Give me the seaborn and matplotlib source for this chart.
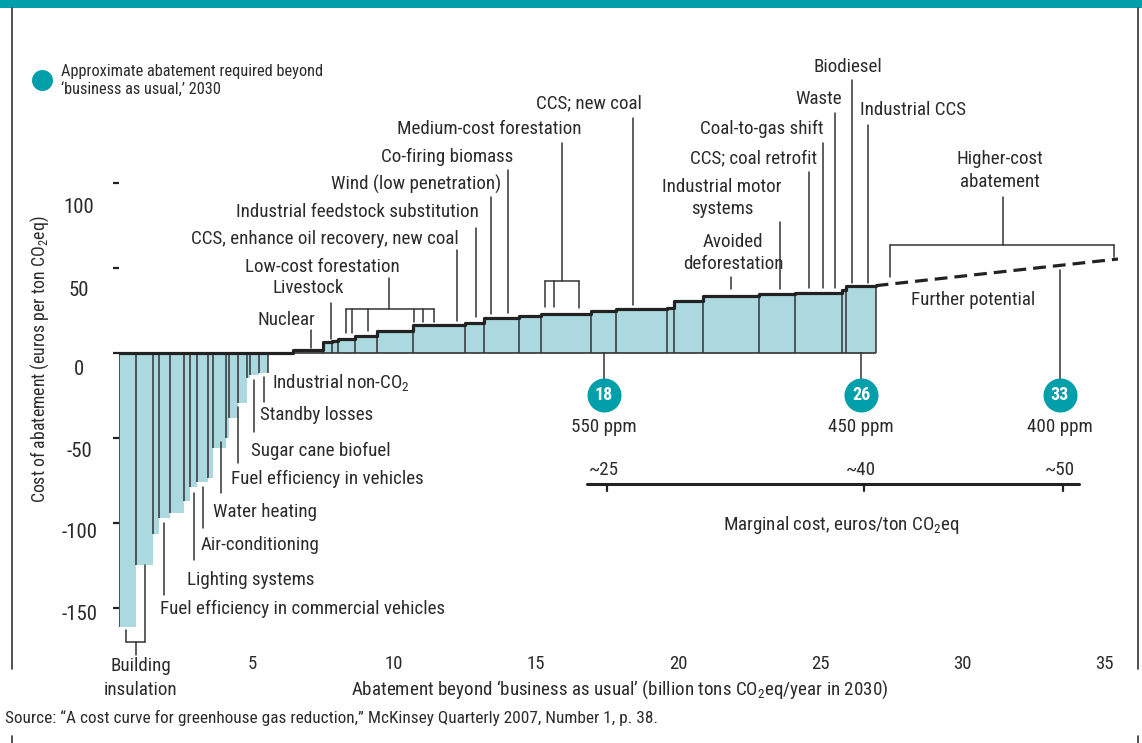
import numpy as np
import matplotlib.pyplot as plt
import seaborn as sns
import matplotlib.transforms as mtransforms
from matplotlib import font_manager

# Data: abatement widths (billion tons CO2eq) and cost (euros per ton), left to right
widths = [0.59, 0.60, 0.19, 0.40, 0.50, 0.21, 0.25, 0.37, 0.18, 0.46, 0.12, 0.30, 0.31, 0.12, 0.31, 0.31,
          0.90,
          1.06, 0.32, 0.21, 0.59, 0.76, 1.29, 1.82, 0.67, 1.24, 0.78, 1.74, 0.88, 1.79, 0.26, 1.01, 1.97,
          1.27, 1.65, 0.16, 1.04]
costs = [-161, -124.7, -106.7, -97, -94.3, -86.9, -78.6, -75.7, -73.5, -56, -49.8, -38.4, -29.6, -14.9, -12.9, -11.6,
         0,
         1.8, 6.3, 7.2, 8.4, 10.0, 13.1, 16.3, 17.8, 20.4, 21.9, 23.1, 24.7, 25.7, 26.3, 30.8, 33.5, 34.5, 35.1,
         37.1, 39.6]
curve_start = 0.33

# "further potential" extension (dashed)
further_x = [26.96, 35.49]
further_cost = [39.6, 55.3]

# abatement targets
targets_x = [17.4, 26.45, 33.45]
targets = ["18", "26", "33"]
ppm = ["550 ppm", "450 ppm", "400 ppm"]
marginal = ["~25", "~40", "~50"]

yticks = [100, 50, 0, -50, -100, -150]
xticks = [5, 10, 15, 20, 25, 30, 35]

# Style: a condensed sans if one is installed
names = {f.name for f in font_manager.fontManager.ttflist}
base, k = "Liberation Sans", 0.92
for cand in ["Roboto Condensed", "Archivo Narrow", "Liberation Sans Narrow", "Barlow Semi Condensed"]:
    if cand in names:
        base, k = cand, 1.0
        break
fs = 13.7 * k
sns.set_style("white")
plt.rcParams["font.family"] = [base, "DejaVu Sans"]
plt.rcParams["mathtext.fontset"] = "custom"
plt.rcParams["mathtext.rm"] = base
plt.rcParams["mathtext.it"] = base
plt.rcParams["mathtext.bf"] = base + ":bold"

teal = "#009fa9"
fill = "#acd9df"
ink = "#2b2b2b"
line = "#333333"

W, H = 1142, 743
fig = plt.figure(figsize=(W / 100, H / 100), dpi=100)
ax = fig.add_axes([119 / W, 1 - 652 / H, 1011 / W, 632 / H])
ax.set_xlim(0.317, 35.915)
ax.set_ylim(-175.9, 195.9)
for s in ax.spines.values():
    s.set_visible(False)

# bars
widths = np.array(widths)
costs = np.array(costs)
lefts = curve_start + np.concatenate([[0], np.cumsum(widths)[:-1]])
rights = lefts + widths
ax.bar(lefts, costs, width=widths, align="edge", color=fill, linewidth=0)

# separators: left edge of every bar, right edge at the end of each run
real = costs != 0
ax.vlines(lefts[real], 0, costs[real], color=line, lw=1.1)
ends = [i for i in range(len(costs)) if real[i] and (i == len(costs) - 1 or costs[i + 1] == 0)]
ax.vlines(rights[ends], 0, costs[ends], color=line, lw=1.1)
ax.hlines(0, lefts[0], rights[-1], color=line, lw=1.2)

# stepped cost curve outline
edges = np.append(lefts, rights[-1])
tops = np.maximum(costs, 0)
sns.lineplot(x=edges, y=np.append(tops, tops[-1]), estimator=None, sort=False,
             drawstyle="steps-post", color="#222222", linewidth=2.3, ax=ax)
ax.plot(further_x, further_cost, color="#222222", lw=2.3, dashes=(4, 2.2))

# axes ticks
ax.set_yticks(yticks)
ax.set_yticklabels([str(v) for v in yticks])
ax.tick_params(axis="y", left=True, direction="out", length=4.3, width=1.6, color="#222222",
               pad=24.5, labelsize=15 * k, labelcolor=ink)
ytick_nudge = [24, 22, 17, 14, 10, 7]
for lab, n in zip(ax.get_yticklabels(), ytick_nudge):
    lab.set_horizontalalignment("center")
    lab.set_verticalalignment("center")
    lab.set_transform(lab.get_transform() + mtransforms.ScaledTranslation(0, -n / 100, fig.dpi_scale_trans))
ax.set_xticks(xticks)
ax.set_xticklabels([str(v) for v in xticks])
ax.tick_params(axis="x", bottom=True, length=0, pad=2, labelsize=13.5 * k, labelcolor=ink)


def leader(x, y0, y1):
    ax.plot([x, x], [y0, y1], color=line, lw=1.1, clip_on=False)


# labels below the baseline (negative cost)
neg_labels = [
    ("Industrial non-CO$_2$", 5.70, -17.6, None),
    ("Standby losses", 5.28, -36.5, (5.42, -14.1, -28.8)),
    ("Sugar cane biofuel", 4.96, -57.6, (5.08, -15.9, -46.5)),
    ("Fuel efficiency in vehicles", 4.26, -74.1, (4.50, -31.8, -64.7)),
    ("Water heating", 3.63, -93.5, (3.90, -52.4, -82.4)),
    ("Air-conditioning", 3.20, -112.9, (3.26, -78.8, -102.9)),
    ("Lighting systems", 2.71, -133.5, (2.96, -82.4, -121.8)),
    ("Fuel efficiency in commercial vehicles", 1.76, -150.6, (1.91, -100, -142.4)),
]
for txt, tx, ty, ld in neg_labels:
    ax.text(tx, ty, txt, ha="left", va="center", fontsize=fs, color=ink)
    if ld:
        leader(*ld)

# labels above the curve
pos_labels = [
    ("Nuclear", 6.23, 19.4, (7.07, 13.5, 2.9)),
    ("Livestock", 6.97, 38.2, (7.78, 29.4, 8.2)),
    ("CCS, enhance oil recovery, new coal", 7.57, 67.1, (12.23, 60.6, 19.0)),
    ("Industrial feedstock substitution", 8.71, 82.9, (12.89, 73.5, 21.2)),
    ("Wind (low penetration)", 10.79, 99.4, (13.42, 91.8, 23.2)),
    ("Co-firing biomass", 11.88, 115.3, (14.02, 107.6, 23.4)),
    ("CCS; new coal", 16.88, 147.1, (18.40, 138.2, 28.2)),
    ("Avoided\ndeforestation", 21.94, 58.8, (21.86, 44.9, 37.6)),
    ("Industrial motor\nsystems", 21.55, 91.2, (23.59, 77.1, 37.6)),
    ("CCS; coal retrofit", 22.66, 114.7, (24.60, 106.5, 38.2)),
    ("Coal-to-gas shift", 22.96, 131.8, (25.09, 123.5, 38.2)),
    ("Waste", 24.96, 149.4, (25.52, 141.2, 38.2)),
    ("Biodiesel", 25.99, 168.2, (26.12, 160.6, 41.2)),
    ("Industrial CCS", 28.26, 142.9, (26.69, 134.1, 41.2)),
    ("Higher-cost\nabatement", 31.34, 107.4, (31.44, 91.9, 63.5)),
    ("Low-cost forestation", 7.48, 50.6, (9.82, 44.1, 25.9)),
    ("Medium-cost forestation", 13.35, 131.8, (15.90, 123.5, 42.4)),
]
for txt, tx, ty, ld in pos_labels:
    ax.text(tx, ty, txt, ha="center", va="center", fontsize=fs, color=ink, linespacing=1.35)
    leader(*ld)


def bracket(x0, x1, y, legs):
    ax.plot([x0, x1], [y, y], color=line, lw=1.1, clip_on=False)
    for lx, ly in legs:
        leader(lx, y, ly)


bracket(8.30, 11.41, 25.9, [(8.30, 11.6), (8.51, 11.6), (9.07, 13.1), (10.71, 18.4), (11.01, 18.4), (11.41, 18.4)])
bracket(15.32, 16.51, 42.4, [(15.32, 27.2), (15.64, 27.2), (16.51, 26.6)])
bracket(27.46, 35.36, 63.5, [(27.46, 44.9), (35.36, 56.6)])
bracket(0.56, 1.23, -169.8, [(0.56, -162.9), (1.23, -124.7)])
leader(0.92, -169.8, -177.6)
ax.text(1.09, -191.2, "Building\ninsulation", ha="center", va="center", fontsize=fs, color=ink, linespacing=1.38)
ax.text(30.39, 31.2, "Further potential", ha="center", va="center", fontsize=fs, color=ink)

# targets
stem_tops = [0, 0, np.interp(targets_x[2], further_x, further_cost) - 2.5]
for x, top in zip(targets_x, stem_tops):
    leader(x, top, -20)
ax.scatter(targets_x, [-24.7] * 3, s=600, color=teal, zorder=5, clip_on=False, linewidths=0)
for x, t, p, m in zip(targets_x, targets, ppm, marginal):
    ax.text(x, -24.7, t, ha="center", va="center", fontsize=fs - 0.7, color="white", fontweight="bold", zorder=6)
    ax.text(x, -43.5, p, ha="center", va="center", fontsize=fs, color=ink)
    ax.text(x, -68.8, m, ha="center", va="center", fontsize=fs, color=ink)
    ax.plot([x + 0.1, x + 0.1], [-77.1, -81.2], color="#222222", lw=1.6, clip_on=False)
ax.plot([targets_x[0] - 0.6, targets_x[-1] + 0.67], [-77.1, -77.1], color="#222222", lw=2.2, clip_on=False)
ax.text(25.74, -101.2, "Marginal cost, euros/ton CO$_2$eq", ha="center", va="center", fontsize=fs, color=ink)

# legend
ax.scatter([-2.39], [160.6], s=228, color=teal, clip_on=False, linewidths=0)
ax.text(-1.73, 160, "Approximate abatement required beyond\n\u2018business as usual,\u2019 2030",
        ha="left", va="center", fontsize=11.8 * k, color=ink, linespacing=1.32)

# axis titles and source
fig.text(40 / W, 1 - 359 / H, "Cost of abatement (euros per ton CO$_2$eq)", rotation=90,
         ha="center", va="center", fontsize=12.8 * k, color=ink)
fig.text(620 / W, 1 - 690 / H, "Abatement beyond \u2018business as usual\u2019 (billion tons CO$_2$eq/year in 2030)",
         ha="center", va="center", fontsize=fs, color=ink)
fig.text(5 / W, 1 - 718 / H,
         "Source: \u201cA cost curve for greenhouse gas reduction,\u201d McKinsey Quarterly 2007, Number 1, p. 38.",
         ha="left", va="center", fontsize=12.4 * k, color=ink)

# panel frame
fig.add_artist(plt.Rectangle((0, 1 - 8 / H), 1, 8 / H, transform=fig.transFigure, color=teal, lw=0))
for px in (12, 1138):
    for y0, y1 in ((8, 669), (736, 743)):
        fig.add_artist(plt.Line2D([px / W, px / W], [1 - y0 / H, 1 - y1 / H], transform=fig.transFigure,
                                  color=line, lw=1.2))

fig.savefig("out.png", dpi=100)
